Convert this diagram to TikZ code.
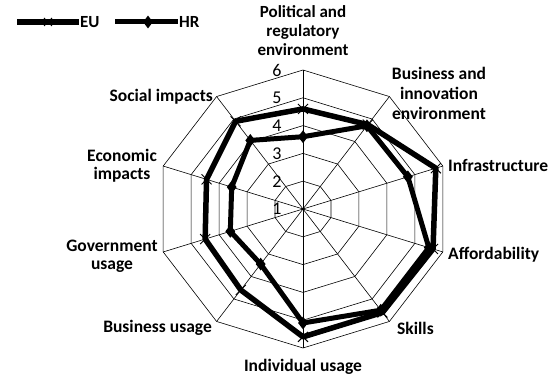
\documentclass[tikz,border=0pt]{standalone}
\usepackage{fontspec}
\setmainfont{Carlito}
\usetikzlibrary{shapes.geometric}
\begin{document}
\begin{tikzpicture}[x=1pt,y=1pt,
  gridline/.style={draw=black, line width=0.6pt},
  euline/.style={line width=5.5pt, line join=round},
  hrline/.style={line width=5pt, line join=round},
  hrmark/.style={diamond, fill=black, inner sep=0pt, minimum width=10pt, minimum height=13pt},
  eumark/.style={line width=0.9pt},
  lab/.style={font=\fontsize{17.5}{20}\selectfont\bfseries, align=center, inner sep=0pt},
  ticklab/.style={font=\fontsize{18}{18}\selectfont, inner sep=0pt},
  leglab/.style={font=\fontsize{17}{17}\selectfont\bfseries, inner sep=0pt, anchor=west}]
\useasboundingbox (0,0) rectangle (556,377);
\fill[white] (0,0) rectangle (556,377);
\begin{scope}[shift={(303,168)}, x=29.4pt, y=27.8pt]
  \coordinate (O) at (0,0);
  % rings
  \foreach \r in {1,...,5} {
    \draw[gridline] (90:\r) \foreach \k in {1,...,9} { -- ({90-36*\k}:\r) } -- cycle;
  }
  % spokes
  \foreach \k in {0,...,9} {
    \coordinate (ax\k) at ({90-36*\k}:5);
    \draw[gridline] (O) -- (ax\k);
  }
  % tick labels
  \foreach \v in {1,...,6} {
    \node[ticklab, xshift=-26pt] (t\v) at (0,\v-1) {\v};
  }
  % data
  \foreach \v [count=\i from 0] in {3.6,3.75,4.75,4.65,4.6,4.6,3.6,3.5,3.45,3.9} {
    \coordinate (eu\i) at ({90-36*\i}:\v);
  }
  \foreach \v [count=\i from 0] in {2.6,3.7,3.75,4.5,4.5,4.1,2.45,2.6,2.55,3.05} {
    \coordinate (hr\i) at ({90-36*\i}:\v);
  }
  \draw[euline] (eu0) -- (eu1) -- (eu2) -- (eu3) -- (eu4) -- (eu5) -- (eu6) -- (eu7) -- (eu8) -- (eu9) -- cycle;
  \foreach \i in {0,...,9} {
    \draw[eumark] ([shift={(-5pt,-5pt)}]eu\i) -- ([shift={(5pt,5pt)}]eu\i);
    \draw[eumark] ([shift={(-5pt,5pt)}]eu\i) -- ([shift={(5pt,-5pt)}]eu\i);
  }
  \draw[hrline] (hr0) -- (hr1) -- (hr2) -- (hr3) -- (hr4) -- (hr5) -- (hr6) -- (hr7) -- (hr8) -- (hr9) -- cycle;
  \foreach \i in {0,...,9} {
    \node[hrmark] (hm\i) at (hr\i) {};
  }
\end{scope}
% axis labels
\node[lab, font=\fontsize{17}{19}\selectfont\bfseries] (l0) at (303,346) {Political and\\regulatory\\environment};
\node[lab] (l1) at (439,284) {Business and\\innovation\\environment};
\node[lab, anchor=west] (l2) at (448,212) {Infrastructure};
\node[lab, anchor=west] (l3) at (448,122) {Affordability};
\node[lab, anchor=west] (l4) at (397,49) {Skills};
\node[lab] (l5) at (303,10) {Individual usage};
\node[lab, anchor=east] (l6) at (212,49) {Business usage};
\node[lab, font=\fontsize{17.5}{18}\selectfont\bfseries] (l7) at (112,121) {Government\\usage};
\node[lab, font=\fontsize{17.5}{18}\selectfont\bfseries] (l8) at (122,211) {Economic\\impacts};
\node[lab, anchor=east] (l9) at (213,280) {Social impacts};
% legend
\coordinate (ea) at (17,355);
\coordinate (eb) at (79,355);
\draw[euline, line cap=butt] (ea) -- (eb);
\coordinate (em) at (48,355);
\draw[eumark] ([shift={(-4pt,-4pt)}]em) -- ([shift={(4pt,4pt)}]em);
\draw[eumark] ([shift={(-4pt,4pt)}]em) -- ([shift={(4pt,-4pt)}]em);
\node[leglab] (leu) at (80,355) {EU};
\coordinate (ha) at (115,355);
\coordinate (hb) at (178,355);
\draw[hrline, line cap=butt] (ha) -- (hb);
\node[hrmark] (hmleg) at (148,355) {};
\node[leglab] (lhr) at (179,355) {HR};
\end{tikzpicture}
\end{document}
